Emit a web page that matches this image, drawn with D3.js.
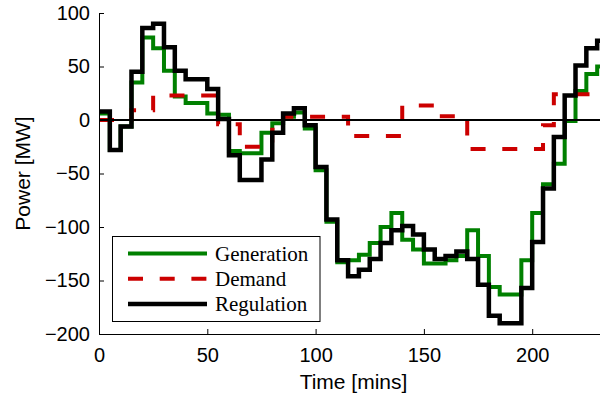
<!DOCTYPE html>
<html>
<head>
<meta charset="utf-8">
<script src="https://cdn.jsdelivr.net/npm/d3@7"></script>
<style>
  html, body { margin: 0; padding: 0; background: #fff; }
  svg { display: block; }
  .tick text { font-family: "Liberation Sans", Arial, sans-serif; font-size: 20px; fill: #000; }
  .axis-label { font-family: "Liberation Sans", Arial, sans-serif; font-size: 21px; fill: #000; }
  .legend-text { font-family: "Liberation Serif", "Times New Roman", serif; font-size: 21px; fill: #000; }
</style>
</head>
<body>
<div id="chart"></div>
<script>
// step start times (minutes); each value holds until the next start
const stepStarts = [0, 5, 10, 15, 20, 25, 30, 35, 40, 45, 50, 55, 60, 65, 70, 75, 80, 85, 90, 95,
  100, 105, 110, 115, 120, 125, 130, 135, 140, 145, 150, 155, 160, 165, 170, 175, 180, 185, 190, 195,
  200, 205, 210, 215, 220, 225, 230];
const endMin = 235;

const generation = [6, -28, -6, 35, 77, 67, 46, 22, 16, 16, 6, 5, -29, -31, -31, -12, -3, 3, 7, -8,
  -47, -95, -133, -131, -126, -115, -100, -87, -112, -121, -134, -134, -131, -127, -103, -127, -156, -163, -163, -131,
  -87, -60, -41, -1, 27, 43, 50];
const demand = [0, 0, 0, 9, 9, 23, 23, 23, 23, 23, 23, -4, -4, -25, -25, -25, -9, 3, 3, 3,
  3, 3, 3, -15, -15, -15, -15, -15, 13.5, 13.5, 13.5, 3.5, 3.5, 3.5, -27, -27, -27, -27, -27, -27,
  -27, -5, 24, 24, 24, 24, 24];
const regulation = [8, -28, -6, 45, 86, 90, 68, 46, 38, 38, 29, 1, -33, -56, -56, -37, -12, 6, 11, -5,
  -44, -93, -131, -146, -140, -130, -115, -103, -99, -107, -121, -130, -127, -123, -130, -154, -183, -190, -190, -157,
  -114, -64, -16, 23, 51, 67, 74];

const xTicks = [0, 50, 100, 150, 200];
const yTicks = [-200, -150, -100, -50, 0, 50, 100];

const series = [
  { name: "Generation", values: generation, color: "#008000", width: 4, dash: null },
  { name: "Demand", values: demand, color: "#cc0000", width: 4, dash: "15,16.7" },
  { name: "Regulation", values: regulation, color: "#000000", width: 4.5, dash: null },
];

const width = 600;
const height = 396;

const x = d3.scaleLinear().domain([0, endMin]).range([99, 608]);
const y = d3.scaleLinear().domain([-200, 100]).range([334, 13]);

const svg = d3.select("#chart").append("svg")
  .attr("width", width)
  .attr("height", height);

function toPoints(values) {
  const pts = stepStarts.map((t, i) => [t, values[i]]);
  pts.push([endMin, values[values.length - 1]]);
  return pts;
}

const line = d3.line()
  .x(d => x(d[0]))
  .y(d => y(d[1]))
  .curve(d3.curveStepAfter);

const plot = svg.append("g");

// generation and demand first, regulation on top
series.slice(0, 2).forEach(s => {
  plot.append("path")
    .datum(toPoints(s.values))
    .attr("d", line)
    .attr("fill", "none")
    .attr("stroke", s.color)
    .attr("stroke-width", s.width)
    .attr("stroke-dasharray", s.dash)
    .attr("stroke-linejoin", "miter");
});

// zero line
plot.append("line")
  .attr("x1", x(0)).attr("x2", x(endMin))
  .attr("y1", y(0)).attr("y2", y(0))
  .attr("stroke", "#000")
  .attr("stroke-width", 2);

plot.append("path")
  .datum(toPoints(regulation))
  .attr("d", line)
  .attr("fill", "none")
  .attr("stroke", series[2].color)
  .attr("stroke-width", series[2].width)
  .attr("stroke-linejoin", "miter");

// axes (MATLAB style: inward ticks, no box)
const xAxis = svg.append("g")
  .attr("transform", `translate(0,${y(-200)})`)
  .call(d3.axisBottom(x).tickValues(xTicks).tickSizeInner(-5).tickSizeOuter(0).tickPadding(14));
const yAxis = svg.append("g")
  .attr("transform", `translate(${x(0)},0)`)
  .call(d3.axisLeft(y).tickValues(yTicks).tickSizeInner(-5).tickSizeOuter(0).tickPadding(9));
[xAxis, yAxis].forEach(a => {
  a.select(".domain").attr("stroke", "#000").attr("stroke-width", 1);
  a.selectAll(".tick line").attr("stroke", "#000");
});

svg.append("text")
  .attr("class", "axis-label")
  .attr("x", 353.5)
  .attr("y", 389)
  .attr("text-anchor", "middle")
  .text("Time [mins]");

svg.append("text")
  .attr("class", "axis-label")
  .attr("transform", "rotate(-90)")
  .attr("x", -(y(100) + y(-200)) / 2)
  .attr("y", 29.5)
  .attr("text-anchor", "middle")
  .text("Power [MW]");

// legend
const legend = svg.append("g").attr("transform", "translate(112.5,236.5)");
legend.append("rect")
  .attr("width", 207.5)
  .attr("height", 85)
  .attr("fill", "#fff")
  .attr("stroke", "#000")
  .attr("stroke-width", 1);

series.forEach((s, i) => {
  const cy = 17 + i * 25.3;
  legend.append("line")
    .attr("x1", 15.5).attr("x2", 94.5)
    .attr("y1", cy).attr("y2", cy)
    .attr("stroke", s.color)
    .attr("stroke-width", s.width)
    .attr("stroke-dasharray", s.dash);
  legend.append("text")
    .attr("class", "legend-text")
    .attr("x", 102.5)
    .attr("y", cy + 7)
    .text(s.name);
});
</script>
</body>
</html>
